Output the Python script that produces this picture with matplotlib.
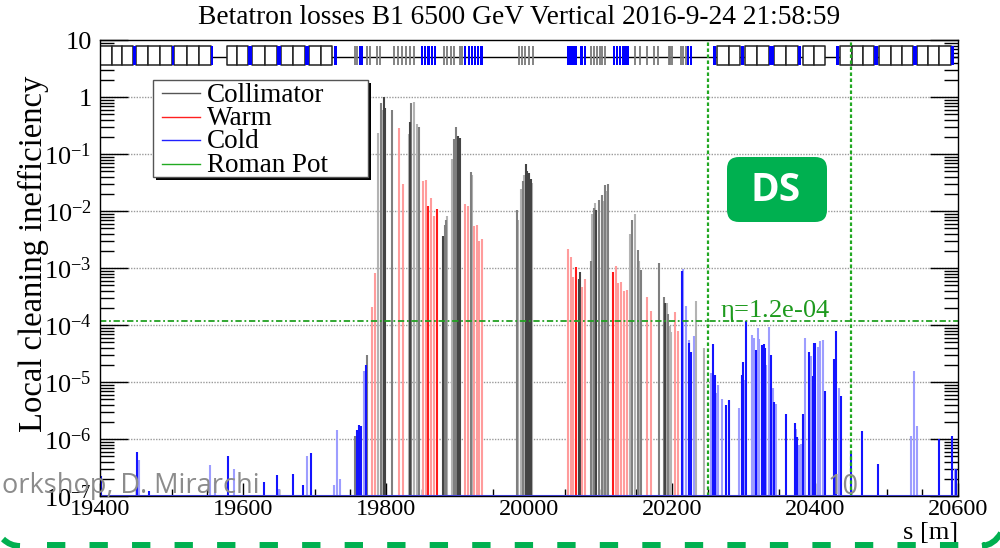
import numpy as np
import matplotlib
matplotlib.use('Agg')
import matplotlib.pyplot as plt
from matplotlib.patches import Rectangle, FancyBboxPatch, PathPatch
from matplotlib.lines import Line2D
from matplotlib.path import Path
from matplotlib.transforms import Affine2D
from matplotlib.ticker import FuncFormatter, LogLocator, MultipleLocator

plt.rcParams['font.family'] = 'Liberation Serif'
plt.rcParams['mathtext.fontset'] = 'custom'
plt.rcParams['mathtext.rm'] = 'Liberation Serif'
plt.rcParams['mathtext.it'] = 'Liberation Serif:italic'

# Loss map data
#--------------------------------------------------------------------
title = 'Betatron losses B1 6500 GeV Vertical 2016-9-24 21:58:59'
eta = 1.2e-4
ds_start, ds_end = 20250, 20450
legend_labels = ['Collimator', 'Warm', 'Cold', 'Roman Pot']

# collimator losses, s [m] and log10(inefficiency)
coll_light_s = [19789.5, 19794.7, 19832.0, 19839.5, 19844.0, 19886.0, 19892.7, 19920.6, 19984.5, 19988.7,
                19992.9, 20004.6, 20088.2, 20092.5, 20104.0, 20108.1, 20140.8, 20148.8, 20154.4, 20192.5,
                20196.7, 20198.6, 20233.1, 20244.4]
coll_light_e = [-0.63, -0.23, -0.64, -0.08, -0.48, -2.08, -1.09, -1.36, -2.16, -1.61,
                -1.37, -1.50, -2.05, -1.86, -1.82, -1.64, -2.40, -2.06, -2.88, -3.62,
                -4.02, -4.13, -3.57, -4.41]
coll_mid_s = [19756.3, 19774.0, 19792.8, 19809.0, 19835.6, 19846.4, 19881.9, 19883.8, 19895.0, 19898.6,
              19918.8, 19982.7, 19991.0, 20086.2, 20090.5, 20097.5, 20102.0, 20106.3, 20110.0, 20143.6,
              20152.0, 20157.1, 20181.3, 20188.3, 20194.9]
coll_mid_e = [-5.95, -4.52, -0.10, -0.22, -0.10, -0.53, -2.25, -2.15, -0.74, -0.53,
              -1.32, -1.98, -1.48, -2.87, -1.94, -1.81, -1.72, -1.55, -1.52, -2.15,
              -2.69, -3.04, -2.91, -3.51, -3.80]
coll_dark_s = [19797.0, 19798.9, 19834.2, 19880.0, 19900.0, 19902.9, 19995.2, 19997.6, 20000.0, 20002.2,
               20069.5, 20070.9, 20094.2, 20190.7]
coll_dark_e = [0.0, -0.20, -0.43, -2.44, -0.68, -0.71, -1.18, -1.29, -1.33, -1.44,
               -3.19, -3.07, -1.98, -3.61]

# warm losses
warm_light_s = [19780.6, 19784.9, 19818.0, 19823.6, 19851.5, 19855.7, 19863.6, 19867.5, 19910.8, 19914.0,
                19922.5, 19926.7, 19930.0, 19934.6, 20054.5, 20058.7, 20062.0, 20074.6, 20078.4, 20121.6,
                20125.0, 20128.7, 20132.8, 20137.0, 20165.0, 20170.6, 20204.2, 20207.9]
warm_light_e = [-3.69, -3.09, -0.54, -1.52, -1.47, -1.46, -1.77, -2.08, -1.87, -1.91,
                -2.27, -2.25, -2.53, -2.49, -2.67, -2.81, -3.16, -3.33, -3.19, -2.97,
                -3.27, -3.24, -3.41, -3.38, -3.51, -3.75, -3.78, -4.10]
warm_dark_s = [19859.4, 19870.7, 20066.2, 20116.9]
warm_dark_e = [-1.91, -1.96, -2.99, -3.07]

# cold losses
cold_light_s = [19454.6, 19554.4, 19561.0, 19587.0, 19650.5, 19689.7, 19727.8, 19731.7, 19735.9, 19768.9,
                20215.9, 20219.6, 20223.3, 20231.3, 20254.6, 20261.6, 20264.4, 20270.0, 20279.9, 20293.8,
                20301.7, 20312.0, 20314.8, 20319.8, 20322.3, 20332.0, 20336.3, 20340.9, 20345.6, 20373.0,
                20377.0, 20380.0, 20381.4, 20386.2, 20394.0, 20400.6, 20403.5, 20406.3, 20410.5, 20434.2,
                20534.0, 20537.8, 20542.4, 20596.0]
cold_light_e = [-6.37, -6.45, -6.75, -6.52, -6.88, -6.30, -6.81, -5.85, -6.70, -4.81,
                -3.01, -3.67, -4.26, -4.20, -4.84, -5.19, -5.06, -5.30, -5.33, -5.46,
                -4.96, -4.18, -4.22, -4.06, -4.24, -4.70, -4.03, -5.10, -5.39, -5.82,
                -6.10, -6.08, -6.75, -4.22, -4.55, -4.61, -4.39, -4.28, -4.27, -5.10,
                -5.95, -4.81, -5.77, -6.52]
cold_dark_s = [19401.4, 19451.8, 19469.0, 19579.7, 19629.9, 19647.1, 19670.1, 19684.6, 19695.3, 19758.8,
               19762.9, 19765.3, 19772.3, 20213.9, 20223.3, 20227.2, 20257.8, 20259.6, 20275.0, 20279.3,
               20297.5, 20299.4, 20304.0, 20317.6, 20326.5, 20328.0, 20329.6, 20338.0, 20343.3, 20359.0,
               20371.6, 20374.9, 20382.8, 20391.2, 20397.3, 20398.7, 20400.6, 20413.3, 20426.2, 20429.5,
               20436.0, 20451.0, 20466.4, 20487.8, 20573.3, 20591.5, 20597.0]
cold_dark_e = [-6.65, -6.23, -6.92, -6.30, -6.76, -6.64, -6.62, -6.81, -6.25, -5.84,
               -5.75, -5.78, -4.71, -3.06, -4.31, -4.47, -4.33, -4.88, -5.41, -5.31,
               -4.88, -4.65, -3.93, -4.43, -4.35, -4.34, -4.41, -4.53, -5.35, -5.57,
               -5.72, -5.96, -5.57, -4.48, -4.90, -4.31, -4.31, -5.16, -4.59, -4.10,
               -5.25, -6.26, -5.86, -6.44, -6.00, -5.95, -6.52]

# machine layout: dipoles, quadrupoles, warm magnets and collimators
dip_s0 = [19400.5, 19416.3, 19431.3, 19450.4, 19467.6, 19484.0, 19503.6, 19522.2, 19538.5, 19577.3,
          19592.2, 19612.3, 19630.9, 19652.8, 19670.6, 19693.0, 19708.8, 20263.0, 20279.4, 20302.7,
          20319.0, 20343.3, 20359.6, 20383.4, 20398.3, 20435.6, 20452.0, 20467.4, 20489.3, 20505.6,
          20522.0, 20542.0, 20557.9, 20573.3]
dip_s1 = [19416.3, 19431.3, 19446.7, 19467.6, 19484.0, 19500.3, 19522.2, 19538.5, 19554.9, 19592.2,
          19607.6, 19630.9, 19647.2, 19670.6, 19686.9, 19708.8, 19725.1, 20279.4, 20295.7, 20319.0,
          20335.4, 20359.6, 20376.0, 20398.3, 20413.3, 20452.0, 20467.4, 20482.3, 20505.6, 20522.0,
          20537.4, 20557.9, 20573.3, 20589.6]
quad_s0 = [19446.7, 19500.3, 19554.9, 19607.6, 19647.2, 19686.9, 19726.6, 20257.4, 20296.6, 20335.4,
           20376.0, 20428.7, 20482.3, 20537.4, 20589.6]
quad_s1 = [19450.4, 19503.6, 19558.6, 19612.3, 19652.8, 19693.0, 19731.2, 20262.1, 20301.3, 20342.4,
           20380.6, 20433.3, 20487.9, 20542.0, 20594.3]
warm_mag_s = [19762.0, 19765.5, 19849.0, 19853.5, 19858.0, 19862.5, 19867.0, 19909.5, 19914.0, 19918.5,
              19923.0, 19927.5, 19932.0, 20053.0, 20056.5, 20060.0, 20063.5, 20072.0, 20076.5, 20117.5,
              20121.5, 20125.5, 20129.5, 20133.5, 20137.5, 20220.5, 20224.5]
warm_mag_len = 3.0
tcoll_s = [19757.0, 19760.0, 19773.0, 19777.0, 19787.0, 19791.0, 19810.5, 19816.5, 19822.0, 19828.0,
           19834.0, 19838.5, 19880.5, 19885.5, 19890.5, 19895.5, 19903.0, 19906.0, 19985.5, 19990.0,
           19995.0, 20000.0, 20005.0, 20086.7, 20090.7, 20094.7, 20098.7, 20102.7, 20106.8, 20148.8,
           20155.7, 20165.0, 20174.4, 20180.0, 20195.4, 20197.5, 20200.0, 20212.7, 20215.5, 20220.0]

# Figure
#--------------------------------------------------------------------
W, H = 1000, 548
fig = plt.figure(figsize=(W / 100, H / 100), dpi=100)
fig.patch.set_facecolor('white')
pix = Affine2D().scale(1 / W, -1 / H).translate(0, 1) + fig.transFigure

ax = fig.add_axes([0.100, 0.0949, 0.858, 0.832])
ax.set_xlim(19400, 20600)
ax.set_yscale('log')
ax.set_ylim(1e-7, 10)

y_min = 1e-7
groups = [
    (coll_light_s, coll_light_e, '#b3b3b3'),
    (coll_mid_s, coll_mid_e, '#7f7f7f'),
    (coll_dark_s, coll_dark_e, '#444444'),
    (warm_light_s, warm_light_e, '#ff9c9c'),
    (warm_dark_s, warm_dark_e, '#ff1a1a'),
    (cold_light_s, cold_light_e, '#9d9dff'),
    (cold_dark_s, cold_dark_e, '#1414ff'),
]
for s, e, c in groups:
    ax.vlines(s, y_min, 10.0 ** np.array(e), colors=c, lw=1.5, zorder=2)

# horizontal grid at each decade
for d in 10.0 ** np.arange(-6, 1):
    ax.axhline(d, color='#9a9a9a', lw=1.0, ls=(0, (1, 1)), zorder=1)

# machine layout band on top
band_lo, band_mid, band_hi = 3.64, 5.0, 7.75
ax.plot([19400, 20600], [band_mid, band_mid], color='black', lw=1.0, zorder=3)
dips = [(a, b - a) for a, b in zip(dip_s0, dip_s1)]
ax.broken_barh(dips, (band_lo, band_hi - band_lo), facecolor='white', edgecolor='#222222', lw=1.1, zorder=4)
quads = [(a, b - a) for a, b in zip(quad_s0, quad_s1)]
ax.broken_barh(quads, (band_lo, band_hi - band_lo), facecolor='#0000ff', edgecolor='none', zorder=5)
ax.broken_barh([(a, warm_mag_len) for a in warm_mag_s], (band_lo, band_hi - band_lo),
               facecolor='#0000ff', edgecolor='none', zorder=5)
ax.vlines(tcoll_s, band_lo, band_hi, colors='#7a7a7a', lw=1.3, zorder=5)

# DS limits and cleaning inefficiency line
for xs in (ds_start, ds_end):
    ax.axvline(xs, color='#22a822', lw=1.6, ls=(0, (1.6, 1.1)), zorder=6)
ax.axhline(eta, color='#22a022', lw=1.3, ls=(0, (3.5, 1.5, 1, 1.5)), zorder=6)
ax.text(20267, eta * 1.17, r'$\mathregular{\eta}$=%.1e' % eta, color='#1e9a1e',
        fontsize=19, ha='left', va='baseline', zorder=7)

# cold aperture baseline
ax.axhline(y_min, color='#4a4aff', lw=1.5, zorder=7)

# axes style
ax.xaxis.set_major_locator(MultipleLocator(200))
ax.xaxis.set_minor_locator(MultipleLocator(50))
ax.yaxis.set_major_locator(LogLocator(base=10, numticks=20))
ax.yaxis.set_minor_locator(LogLocator(base=10, subs=np.arange(2, 10), numticks=20))


def ylab(v, pos):
    e = int(round(np.log10(v)))
    if e == 1:
        return '10'
    if e == 0:
        return '1'
    return r'$\mathregular{10^{%d}}$' % e


ax.yaxis.set_major_formatter(FuncFormatter(ylab))
ax.tick_params(axis='y', which='major', direction='in', length=20, width=1, right=True, labelsize=19, pad=6)
ax.tick_params(axis='y', which='minor', direction='in', length=10, width=1, right=True)
ax.tick_params(axis='x', which='major', direction='in', length=9.5, width=1, labelsize=17.5, pad=2)
ax.tick_params(axis='x', which='minor', direction='in', length=5, width=1)
for sp in ax.spines.values():
    sp.set_linewidth(1.0)
    sp.set_zorder(8)

# legend
fig.add_artist(Rectangle((156, 180), 215, -97, transform=pix, facecolor='black', edgecolor='none', zorder=10))
fig.add_artist(Rectangle((153, 177), 215, -97, transform=pix, facecolor='white', edgecolor='#555555',
                         lw=1.0, zorder=11))
leg_colors = ['#555555', '#ff2020', '#2020ff', '#22aa22']
for i, (lab, c) in enumerate(zip(legend_labels, leg_colors)):
    yy = 93 + i * 23.5
    fig.add_artist(Line2D([162, 200], [yy, yy], transform=pix, color=c, lw=1.0, zorder=12))
    fig.text(207 / W, 1 - (yy + 2) / H, lab, fontsize=19.5, ha='left', va='center', zorder=12)

# DS label box
fig.add_artist(FancyBboxPatch((727, 157), 100, 65, transform=pix,
                              boxstyle='round,pad=0,rounding_size=12', facecolor='#00b050',
                              edgecolor='none', zorder=12))
fig.text(776 / W, 1 - 190 / H, 'DS', fontsize=28, color='white', fontweight='bold',
         family='Open Sans', ha='center', va='center', zorder=13)

# titles
fig.text(519 / W, 1 - 18 / H, title, fontsize=19.7, ha='center', va='center')
fig.text(33 / W, 1 - 254 / H, 'Local cleaning inefficiency', fontsize=23.5, rotation=90,
         ha='center', va='center')
fig.text(958 / W, 1 - 533 / H, 's [m]', fontsize=19, ha='right', va='center')

# slide footer
fig.text(2 / W, 1 - 493 / H, 'orkshop, D. Mirarchi', fontsize=19.5, family='Open Sans',
         color='#8c8c8c', ha='left', va='baseline', zorder=14)
fig.text(828 / W, 1 - 494 / H, '10', fontsize=19.5, family='Open Sans',
         color='#8c8c8c', ha='left', va='baseline', zorder=14)

green = '#00b050'
fig.add_artist(Line2D([46.7, 985], [545, 545], transform=pix, color=green, lw=4.3,
                      dashes=(3.07, 4.05), zorder=15))
left_arc = Path([(20, 546), (10, 546), (3, 539)], [Path.MOVETO, Path.CURVE3, Path.CURVE3])
right_arc = Path([(982, 546), (994, 545), (1001, 533)], [Path.MOVETO, Path.CURVE3, Path.CURVE3])
for p in (left_arc, right_arc):
    fig.add_artist(PathPatch(p, transform=pix, facecolor='none', edgecolor=green, lw=4.3, zorder=15))

fig.savefig('out.png', dpi=100)
